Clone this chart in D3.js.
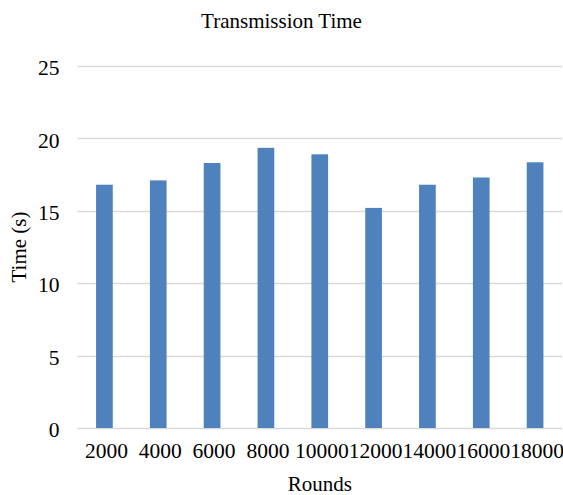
<!DOCTYPE html>
<html><head><meta charset="utf-8">
<script src="https://cdn.jsdelivr.net/npm/d3@7"></script>
<style>body{margin:0;background:#fff}svg{display:block}text{font-family:"Liberation Serif","Times New Roman",serif;fill:#000}</style>
</head><body>
<svg id="c" width="563" height="495"></svg>
<script>
const categories = ["2000","4000","6000","8000","10000","12000","14000","16000","18000"];
const timeValues = [16.8, 17.1, 18.3, 19.35, 18.9, 15.2, 16.8, 17.3, 18.35];
const yTicks = [0, 5, 10, 15, 20, 25];

const svg = d3.select("#c");
const m = {l: 77.5, r: 562, t: 66, b: 428};
const x = d3.scaleBand().domain(categories).range([m.l, m.r]).paddingInner(0.69).paddingOuter(0.345);
const y = d3.scaleLinear().domain([0, 25]).range([m.b, m.t]);

svg.append("g").selectAll("line").data(yTicks).join("line")
  .attr("x1", m.l).attr("x2", m.r)
  .attr("y1", d => Math.round(y(d)) + 0.5).attr("y2", d => Math.round(y(d)) + 0.5)
  .attr("stroke", "#D9D9D9").attr("stroke-width", 1.3);

svg.append("g").selectAll("rect").data(categories).join("rect")
  .attr("x", d => x(d)).attr("width", x.bandwidth())
  .attr("y", (d, i) => y(timeValues[i]))
  .attr("height", (d, i) => y(0) - y(timeValues[i]))
  .attr("fill", "#4F81BD");

const yAxis = d3.axisLeft(y).tickValues(yTicks).tickSize(0).tickPadding(18);
const gy = svg.append("g").attr("transform", `translate(${m.l},0)`).call(yAxis);
gy.attr("font-family", null).attr("font-size", null);
gy.select(".domain").remove();
gy.selectAll("text").attr("font-size", 21.5).attr("fill", "#000").attr("dy", "0.4em");

const xAxis = d3.axisBottom(x).tickSize(0).tickPadding(15);
const gx = svg.append("g").attr("transform", `translate(0,${m.b})`).call(xAxis);
gx.attr("font-family", null).attr("font-size", null);
gx.select(".domain").remove();
gx.selectAll("text").attr("font-size", 21.5).attr("fill", "#000").attr("dx", 2);

svg.append("text").attr("x", 281.5).attr("y", 28).attr("text-anchor", "middle").attr("font-size", 21).text("Transmission Time");
svg.append("text").attr("x", (m.l + m.r) / 2).attr("y", 491).attr("text-anchor", "middle").attr("font-size", 21).text("Rounds");
svg.append("text").attr("transform", `translate(26,${(m.t + m.b) / 2}) rotate(-90)`).attr("text-anchor", "middle").attr("font-size", 21).text("Time (s)");
</script>
</body></html>
